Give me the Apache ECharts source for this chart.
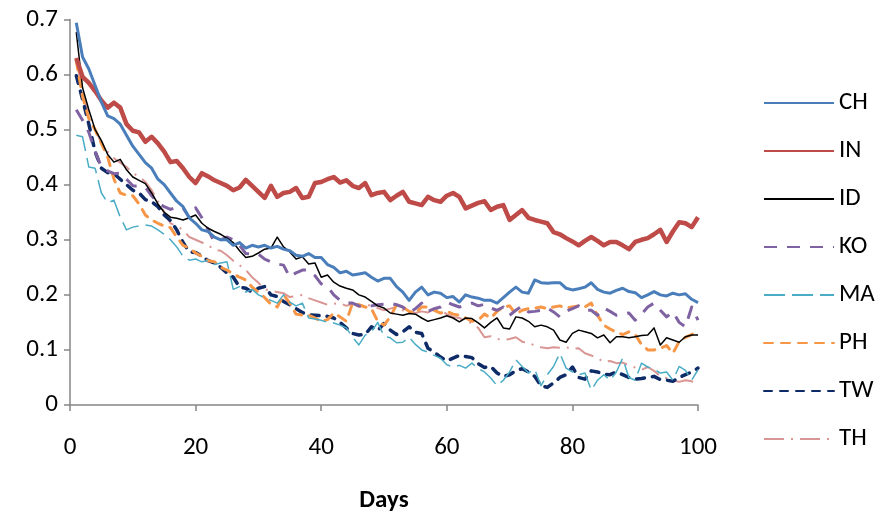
<!DOCTYPE html>
<html>
<head>
<meta charset="utf-8">
<script src="https://cdn.jsdelivr.net/npm/echarts@6/dist/echarts.min.js"></script>
<style>html,body{margin:0;padding:0;background:#fff}#c{width:878px;height:521px}</style>
</head>
<body>
<div id="c"></div>
<script>
var seriesNames = ['CH','IN','ID','KO','MA','PH','TW','TH'];
var xTicks = [0,20,40,60,80,100];
var yTicks = [0,0.1,0.2,0.3,0.4,0.5,0.6,0.7];

var CH = [0.694,0.632,0.61,0.58,0.55,0.525,0.52,0.51,0.49,0.47,0.455,0.44,0.43,0.41,0.40,0.385,0.37,0.36,0.34,0.33,
0.318,0.315,0.305,0.30,0.30,0.29,0.295,0.285,0.29,0.287,0.29,0.285,0.288,0.283,0.28,0.272,0.27,0.275,0.268,0.268,
0.255,0.25,0.24,0.243,0.236,0.238,0.24,0.232,0.225,0.23,0.23,0.215,0.205,0.19,0.205,0.214,0.2,0.205,0.203,0.195,
0.197,0.187,0.2,0.196,0.194,0.19,0.19,0.185,0.195,0.205,0.214,0.205,0.203,0.227,0.222,0.221,0.222,0.222,0.212,0.209,
0.211,0.214,0.222,0.21,0.205,0.203,0.208,0.212,0.206,0.204,0.195,0.2,0.206,0.2,0.198,0.203,0.2,0.202,0.192,0.186];

var IN = [0.63,0.596,0.585,0.57,0.553,0.54,0.549,0.54,0.51,0.498,0.495,0.478,0.487,0.475,0.46,0.441,0.443,0.43,0.414,0.403,
0.421,0.415,0.408,0.403,0.398,0.39,0.395,0.409,0.398,0.387,0.376,0.398,0.378,0.385,0.387,0.394,0.376,0.378,0.403,0.405,
0.41,0.414,0.404,0.408,0.398,0.394,0.403,0.381,0.385,0.387,0.372,0.38,0.387,0.369,0.366,0.363,0.378,0.372,0.369,0.38,
0.385,0.378,0.357,0.362,0.367,0.37,0.354,0.36,0.363,0.336,0.345,0.354,0.34,0.336,0.333,0.33,0.314,0.31,0.303,0.297,
0.29,0.298,0.305,0.298,0.29,0.296,0.296,0.29,0.283,0.296,0.3,0.303,0.31,0.318,0.296,0.315,0.332,0.33,0.323,0.341];

var ID = [0.677,0.576,0.536,0.5,0.48,0.455,0.441,0.446,0.427,0.414,0.408,0.402,0.385,0.365,0.35,0.341,0.339,0.336,0.34,0.345,
0.33,0.321,0.315,0.31,0.303,0.295,0.28,0.268,0.27,0.276,0.283,0.285,0.305,0.287,0.278,0.265,0.269,0.256,0.258,0.232,
0.236,0.223,0.216,0.212,0.209,0.2,0.196,0.188,0.18,0.176,0.167,0.165,0.163,0.166,0.165,0.158,0.152,0.155,0.158,0.162,
0.158,0.151,0.158,0.157,0.149,0.14,0.15,0.158,0.14,0.138,0.16,0.158,0.152,0.142,0.145,0.142,0.136,0.118,0.114,0.13,
0.136,0.133,0.13,0.122,0.127,0.113,0.124,0.124,0.122,0.124,0.126,0.127,0.14,0.109,0.122,0.118,0.114,0.124,0.127,0.127];

var KO = [0.536,0.517,0.495,0.46,0.432,0.425,0.42,0.421,0.41,0.398,0.397,0.395,0.38,0.367,0.36,0.355,0.36,0.358,0.34,0.358,
0.34,0.318,0.296,0.3,0.305,0.3,0.29,0.275,0.274,0.274,0.265,0.26,0.256,0.254,0.232,0.24,0.245,0.245,0.235,0.22,
0.215,0.2,0.19,0.185,0.185,0.18,0.178,0.18,0.182,0.183,0.185,0.182,0.178,0.167,0.175,0.185,0.17,0.175,0.178,0.187,
0.182,0.178,0.182,0.185,0.18,0.183,0.176,0.172,0.178,0.163,0.172,0.18,0.169,0.17,0.172,0.176,0.169,0.16,0.17,0.175,
0.18,0.172,0.172,0.163,0.176,0.17,0.163,0.165,0.167,0.154,0.165,0.178,0.185,0.172,0.16,0.169,0.15,0.142,0.178,0.154];

var MA = [0.49,0.487,0.432,0.43,0.385,0.367,0.372,0.341,0.318,0.323,0.325,0.327,0.325,0.318,0.31,0.3,0.287,0.27,0.263,0.265,
0.26,0.262,0.255,0.258,0.26,0.21,0.215,0.205,0.21,0.2,0.195,0.19,0.185,0.2,0.187,0.18,0.185,0.158,0.156,0.154,
0.15,0.149,0.145,0.14,0.123,0.109,0.127,0.133,0.15,0.125,0.122,0.113,0.114,0.123,0.11,0.1,0.096,0.09,0.085,0.073,
0.069,0.072,0.067,0.076,0.066,0.06,0.049,0.035,0.045,0.06,0.082,0.07,0.058,0.065,0.035,0.055,0.07,0.094,0.067,0.06,
0.055,0.058,0.027,0.045,0.055,0.045,0.06,0.085,0.05,0.045,0.076,0.069,0.065,0.058,0.06,0.045,0.07,0.063,0.045,0.064];

var PH = [0.625,0.56,0.52,0.5,0.475,0.45,0.41,0.385,0.381,0.38,0.365,0.345,0.336,0.33,0.325,0.322,0.305,0.29,0.285,0.276,
0.27,0.262,0.26,0.25,0.245,0.238,0.232,0.227,0.214,0.205,0.195,0.183,0.178,0.2,0.185,0.165,0.163,0.163,0.158,0.152,
0.155,0.167,0.16,0.152,0.185,0.182,0.178,0.175,0.152,0.145,0.16,0.182,0.178,0.17,0.167,0.178,0.178,0.172,0.167,0.17,
0.165,0.163,0.158,0.152,0.154,0.165,0.158,0.17,0.178,0.18,0.165,0.172,0.175,0.176,0.178,0.175,0.178,0.18,0.176,0.178,
0.18,0.178,0.185,0.163,0.145,0.138,0.132,0.128,0.133,0.128,0.11,0.1,0.1,0.103,0.108,0.094,0.115,0.123,0.128,0.133];

var TW = [0.598,0.555,0.51,0.46,0.43,0.422,0.42,0.41,0.4,0.39,0.385,0.373,0.369,0.36,0.345,0.335,0.318,0.295,0.278,0.277,
0.27,0.262,0.258,0.25,0.24,0.232,0.214,0.212,0.205,0.212,0.215,0.2,0.197,0.188,0.182,0.175,0.168,0.164,0.163,0.162,
0.161,0.158,0.15,0.14,0.13,0.127,0.128,0.142,0.135,0.148,0.136,0.128,0.133,0.142,0.132,0.13,0.103,0.096,0.087,0.08,
0.085,0.09,0.088,0.086,0.075,0.068,0.07,0.058,0.052,0.055,0.062,0.066,0.06,0.052,0.035,0.032,0.04,0.05,0.055,0.069,
0.05,0.047,0.062,0.06,0.056,0.055,0.06,0.055,0.05,0.047,0.048,0.05,0.052,0.046,0.045,0.043,0.05,0.055,0.06,0.067];

var TH = [0.63,0.565,0.53,0.5,0.476,0.46,0.448,0.44,0.432,0.421,0.415,0.405,0.39,0.37,0.35,0.33,0.325,0.318,0.305,0.3,
0.295,0.29,0.282,0.28,0.272,0.262,0.254,0.245,0.232,0.222,0.21,0.208,0.205,0.203,0.196,0.198,0.2,0.194,0.19,0.186,
0.182,0.184,0.185,0.18,0.184,0.178,0.182,0.18,0.176,0.172,0.175,0.178,0.172,0.17,0.167,0.17,0.168,0.175,0.172,0.165,
0.16,0.158,0.152,0.149,0.14,0.123,0.125,0.12,0.118,0.12,0.123,0.115,0.113,0.108,0.105,0.103,0.105,0.104,0.105,0.102,
0.103,0.094,0.09,0.085,0.078,0.08,0.076,0.077,0.072,0.068,0.064,0.069,0.062,0.052,0.049,0.045,0.042,0.045,0.043,0.037];

var values = [CH, IN, ID, KO, MA, PH, TW, TH];
var colors = ['#4a7ebb','#be4b48','#000000','#7f62a1','#4bacc6','#f79646','#0e2b68','#d99694'];
var widths = [3, 4.5, 1.5, 3, 1.5, 3, 3.5, 2];
var dashes = ['solid','solid','solid',[13,10],[21,7],[9,8],[8,8],[20,7,2,7]];
var caps = ['butt','butt','butt','butt','butt','round','round','butt'];

var FONT = 'Carlito, Lato, "Open Sans", sans-serif';

var series = seriesNames.map(function (name, i) {
  return {
    name: name,
    type: 'line',
    data: values[i].map(function (v, d) { return [d + 1, v]; }),
    showSymbol: false,
    symbol: 'none',
    color: colors[i],
    lineStyle: { color: colors[i], width: widths[i], type: dashes[i], cap: caps[i], join: 'round' },
    z: 10 - i
  };
});

var chart = echarts.init(document.getElementById('c'), null, { renderer: 'canvas' });
chart.setOption({
  animation: false,
  backgroundColor: '#ffffff',
  textStyle: { fontFamily: FONT },
  grid: { left: 70, right: 180, top: 19.5, bottom: 116, containLabel: false },
  xAxis: {
    type: 'value', min: xTicks[0], max: xTicks[xTicks.length - 1], interval: 20,
    name: 'Days', nameLocation: 'middle', nameGap: 83,
    nameTextStyle: { fontFamily: FONT, fontSize: 25, fontWeight: 'bold', color: '#000' },
    axisLine: { show: true, lineStyle: { color: '#868686', width: 1.5 } },
    axisTick: { show: true, inside: false, length: 6, lineStyle: { color: '#868686', width: 1.5 } },
    axisLabel: { fontFamily: FONT, fontSize: 25, color: '#000', margin: 30 },
    splitLine: { show: false }
  },
  yAxis: {
    type: 'value', min: yTicks[0], max: yTicks[yTicks.length - 1], interval: 0.1,
    axisLine: { show: true, lineStyle: { color: '#868686', width: 1.5 } },
    axisTick: { show: true, inside: false, length: 6, lineStyle: { color: '#868686', width: 1.5 } },
    axisLabel: { fontFamily: FONT, fontSize: 25, color: '#000', margin: 12,
      formatter: function (v) { return String(Math.round(v * 10) / 10); } },
    splitLine: { show: false }
  },
  legend: {
    orient: 'vertical', left: 758, top: 85,
    itemWidth: 70, itemHeight: 26, itemGap: 22,
    itemStyle: { opacity: 0, borderWidth: 0 },
    textStyle: { fontFamily: FONT, fontSize: 25, lineHeight: 26, color: '#000' },
    data: seriesNames
  },
  series: series
});
</script>
</body>
</html>
